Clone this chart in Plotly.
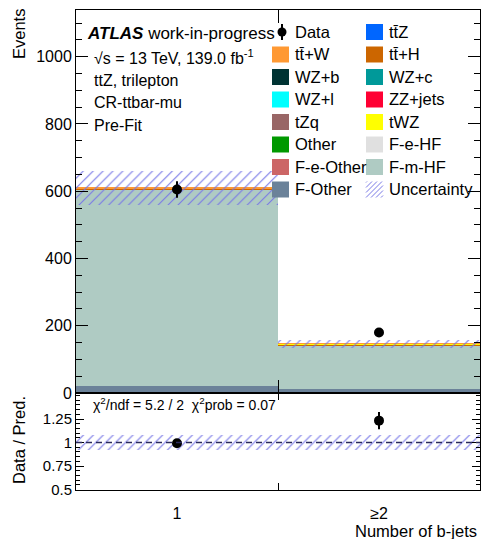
import plotly.graph_objects as go
from plotly.subplots import make_subplots

# ---- binning -------------------------------------------------------------
bin_pos = [0, 1]
bin_labels = ["1", "≥2"]

# ---- observed data -------------------------------------------------------
data = [605, 180]
data_err = [24.6, 13.4]

# ---- pre-fit predictions per sample (events) -----------------------------
ttZ = [0.1, 0.2]
ttW = [2.5, 0.2]
ttH = [1.0, 1.0]
WZ_b = [0.2, 0.3]
WZ_c = [0.3, 0.2]
WZ_l = [0.3, 0.1]
ZZ_jets = [0.2, 0.1]
tZq = [0.3, 0.4]
tWZ = [0.3, 2.2]
Other = [0.5, 0.3]
F_e_HF = [0.0, 0.0]
F_e_Other = [0.0, 0.0]
F_m_HF = [584.0, 128.0]
F_Other = [20.0, 13.0]

# total uncertainty on the prediction
pred_unc = [50.0, 12.0]

# ---- styling -------------------------------------------------------------
FONT = "Liberation Sans"
HATCH = "#7878e6"
colors = {
    "tt̄Z": "#0066ff", "tt̄+W": "#ff9933", "tt̄+H": "#cc6600",
    "WZ+b": "#003333", "WZ+c": "#009999", "WZ+l": "#00ffff",
    "ZZ+jets": "#ff0033", "tZq": "#996666", "tWZ": "#ffff00",
    "Other": "#009900", "F-e-HF": "#e0e0e0", "F-e-Other": "#cc6666",
    "F-m-HF": "#afcbc3", "F-Other": "#6b8299",
}

# stacking order, bottom to top
stack = [
    ("F-Other", F_Other), ("F-m-HF", F_m_HF), ("F-e-Other", F_e_Other),
    ("F-e-HF", F_e_HF), ("Other", Other), ("tZq", tZq),
    ("ZZ+jets", ZZ_jets), ("WZ+l", WZ_l), ("WZ+c", WZ_c), ("WZ+b", WZ_b),
    ("tt̄Z", ttZ), ("tt̄+H", ttH), ("tWZ", tWZ), ("tt̄+W", ttW),
]

# legend layout (row-major, two columns)
legend_items = [
    "Data", "tt̄Z", "tt̄+W", "tt̄+H", "WZ+b", "WZ+c", "WZ+l", "ZZ+jets",
    "tZq", "tWZ", "Other", "F-e-HF", "F-e-Other", "F-m-HF", "F-Other",
    "Uncertainty",
]

# ---- figure geometry (pixels) --------------------------------------------
W, H = 481, 539
L, R, T, B = 76, 1, 10, 49
PW, PH = W - L - R, H - T - B
ratio_h = 97

fig = make_subplots(rows=2, cols=1, shared_xaxes=True, vertical_spacing=0,
                    row_heights=[PH - ratio_h, ratio_h])

# stacked prediction
base = [0.0, 0.0]
for name, vals in stack:
    fig.add_trace(go.Bar(x=bin_pos, y=vals, base=list(base), width=1,
                         marker=dict(color=colors[name], line=dict(width=0)),
                         opacity=1, name=name, showlegend=False),
                  row=1, col=1)
    base = [b + v for b, v in zip(base, vals)]
pred = base

hatch = dict(shape="/", fgcolor=HATCH, fgopacity=1, bgcolor="rgba(0,0,0,0)",
             size=7, solidity=0.16)

# uncertainty band on the stack
fig.add_trace(go.Bar(x=bin_pos, y=[2 * u for u in pred_unc],
                     base=[p - u for p, u in zip(pred, pred_unc)], width=1,
                     marker=dict(color="rgba(0,0,0,0)", line=dict(width=0),
                                 pattern=hatch),
                     showlegend=False), row=1, col=1)

# data points
fig.add_trace(go.Scatter(x=bin_pos, y=data, mode="markers",
                         marker=dict(size=10, color="black"),
                         error_y=dict(type="data", array=data_err, width=0,
                                      thickness=2, color="black"),
                         showlegend=False), row=1, col=1)

# ---- ratio panel ---------------------------------------------------------
rel_unc = [u / p for u, p in zip(pred_unc, pred)]
ratio = [d / p for d, p in zip(data, pred)]
ratio_err = [e / p for e, p in zip(data_err, pred)]

fig.add_trace(go.Bar(x=bin_pos, y=[2 * r for r in rel_unc],
                     base=[1 - r for r in rel_unc], width=1,
                     marker=dict(color="rgba(0,0,0,0)", line=dict(width=0),
                                 pattern=hatch),
                     showlegend=False), row=2, col=1)
fig.add_shape(type="line", xref="x2 domain", yref="y2", x0=0, x1=1, y0=1, y1=1,
              line=dict(color="#2a2a5e", width=1.5, dash="6px,4px"))
fig.add_trace(go.Scatter(x=bin_pos, y=ratio, mode="markers",
                         marker=dict(size=10, color="black"),
                         error_y=dict(type="data", array=ratio_err, width=0,
                                      thickness=2, color="black"),
                         showlegend=False), row=2, col=1)

# ---- axes ----------------------------------------------------------------
frame = dict(showline=True, linecolor="black", linewidth=1, mirror="ticks",
             tickcolor="black", showgrid=False, zeroline=False,
             layer="above traces")

fig.update_xaxes(range=[-0.5, 1.5], ticks="", showticklabels=False,
                 minor=dict(tickmode="array", tickvals=[0.5], ticks="inside",
                            ticklen=13, tickcolor="black", tickwidth=1),
                 **frame, row=1, col=1)
fig.update_xaxes(range=[-0.5, 1.5], tickmode="array", tickvals=bin_pos,
                 ticktext=bin_labels, ticks="", showticklabels=True,
                 ticklabelstandoff=9,
                 tickfont=dict(family=FONT, size=16, color="black"),
                 minor=dict(tickmode="array", tickvals=[0.5], ticks="inside",
                            ticklen=7, tickcolor="black", tickwidth=1),
                 **frame, row=2, col=1)
fig.update_yaxes(range=[0, 1139], tickmode="array",
                 tickvals=[0, 200, 400, 600, 800, 1000],
                 ticks="inside", ticklen=12,
                 minor=dict(dtick=50, ticks="inside", ticklen=6,
                            tickcolor="black"),
                 tickfont=dict(family=FONT, size=16, color="black"),
                 **frame, row=1, col=1)
fig.update_yaxes(range=[0.495, 1.527], tickmode="array",
                 tickvals=[0.5, 0.75, 1, 1.25],
                 ticktext=["0.5", "0.75", "1", "1.25"],
                 ticks="inside", ticklen=8,
                 minor=dict(tick0=0.5, dtick=0.05, ticks="inside", ticklen=4,
                            tickcolor="black"),
                 tickfont=dict(family=FONT, size=15, color="black"),
                 **frame, row=2, col=1)


# ---- pixel helpers for text and legend -----------------------------------
def px(x):
    return (x - L) / PW


def py(y):
    return (H - B - y) / PH


def text(x, y, s, size, anchor="left", angle=0, yanchor="middle"):
    fig.add_annotation(xref="paper", yref="paper", x=px(x), y=py(y), text=s,
                       showarrow=False, xanchor=anchor, yanchor=yanchor,
                       textangle=angle,
                       font=dict(family=FONT, size=size, color="black"))


# axis titles
text(19, 34, "Events", 16.5, anchor="center", angle=-90)
text(19, 440, "Data / Pred.", 16.5, anchor="center", angle=-90)
text(478.5, 531, "Number of b-jets", 16.5, anchor="right")

# labels
text(85, 33, "<b><i>ATLAS</i></b> work-in-progress", 17)
text(92, 57, "√s = 13 TeV, 139.0 fb<sup>-1</sup>", 16)
text(92, 80, "ttZ, trilepton", 16)
text(92, 102, "CR-ttbar-mu", 16)
text(92, 125, "Pre-Fit", 16)
text(91, 404, "χ<sup>2</sup>/ndf = 5.2 / 2  χ<sup>2</sup>prob = 0.07", 14)

# legend
col_x = [272, 366]
row0, dy = 32, 22.5
sw, sh = 17, 16
for i, name in enumerate(legend_items):
    cx = col_x[i % 2]
    cy = row0 + dy * (i // 2)
    if name == "Data":
        mx, r = cx + 10, 4.5
        fig.add_shape(type="line", xref="paper", yref="paper",
                      x0=px(mx), x1=px(mx), y0=py(cy - 8), y1=py(cy + 8),
                      line=dict(color="black", width=2))
        fig.add_shape(type="circle", xref="paper", yref="paper",
                      x0=px(mx - r), x1=px(mx + r), y0=py(cy + r), y1=py(cy - r),
                      fillcolor="black", line=dict(width=0))
    elif name == "Uncertainty":
        x0, x1, y0, y1 = cx, cx + sw, cy + sh / 2, cy - sh / 2
        for k in range(-3, 5):
            ax, bx = x0 + k * 5, x0 + k * 5 + sh
            ay, by = y0, y1
            if ax < x0:
                ay -= (x0 - ax)
                ax = x0
            if bx > x1:
                by += (bx - x1)
                bx = x1
            if ax >= bx:
                continue
            fig.add_shape(type="line", xref="paper", yref="paper",
                          x0=px(ax), x1=px(bx), y0=py(ay), y1=py(by),
                          line=dict(color=HATCH, width=1))
    else:
        fig.add_shape(type="rect", xref="paper", yref="paper",
                      x0=px(cx), x1=px(cx + sw), y0=py(cy + sh / 2),
                      y1=py(cy - sh / 2), fillcolor=colors[name],
                      line=dict(width=0))
    text(cx + 21, cy, name, 16.5)

fig.update_layout(width=W, height=H, margin=dict(l=L, r=R, t=T, b=B),
                  barmode="overlay", bargap=0, showlegend=False,
                  plot_bgcolor="white", paper_bgcolor="white",
                  font=dict(family=FONT, color="black"))

fig.write_html("out.html")
